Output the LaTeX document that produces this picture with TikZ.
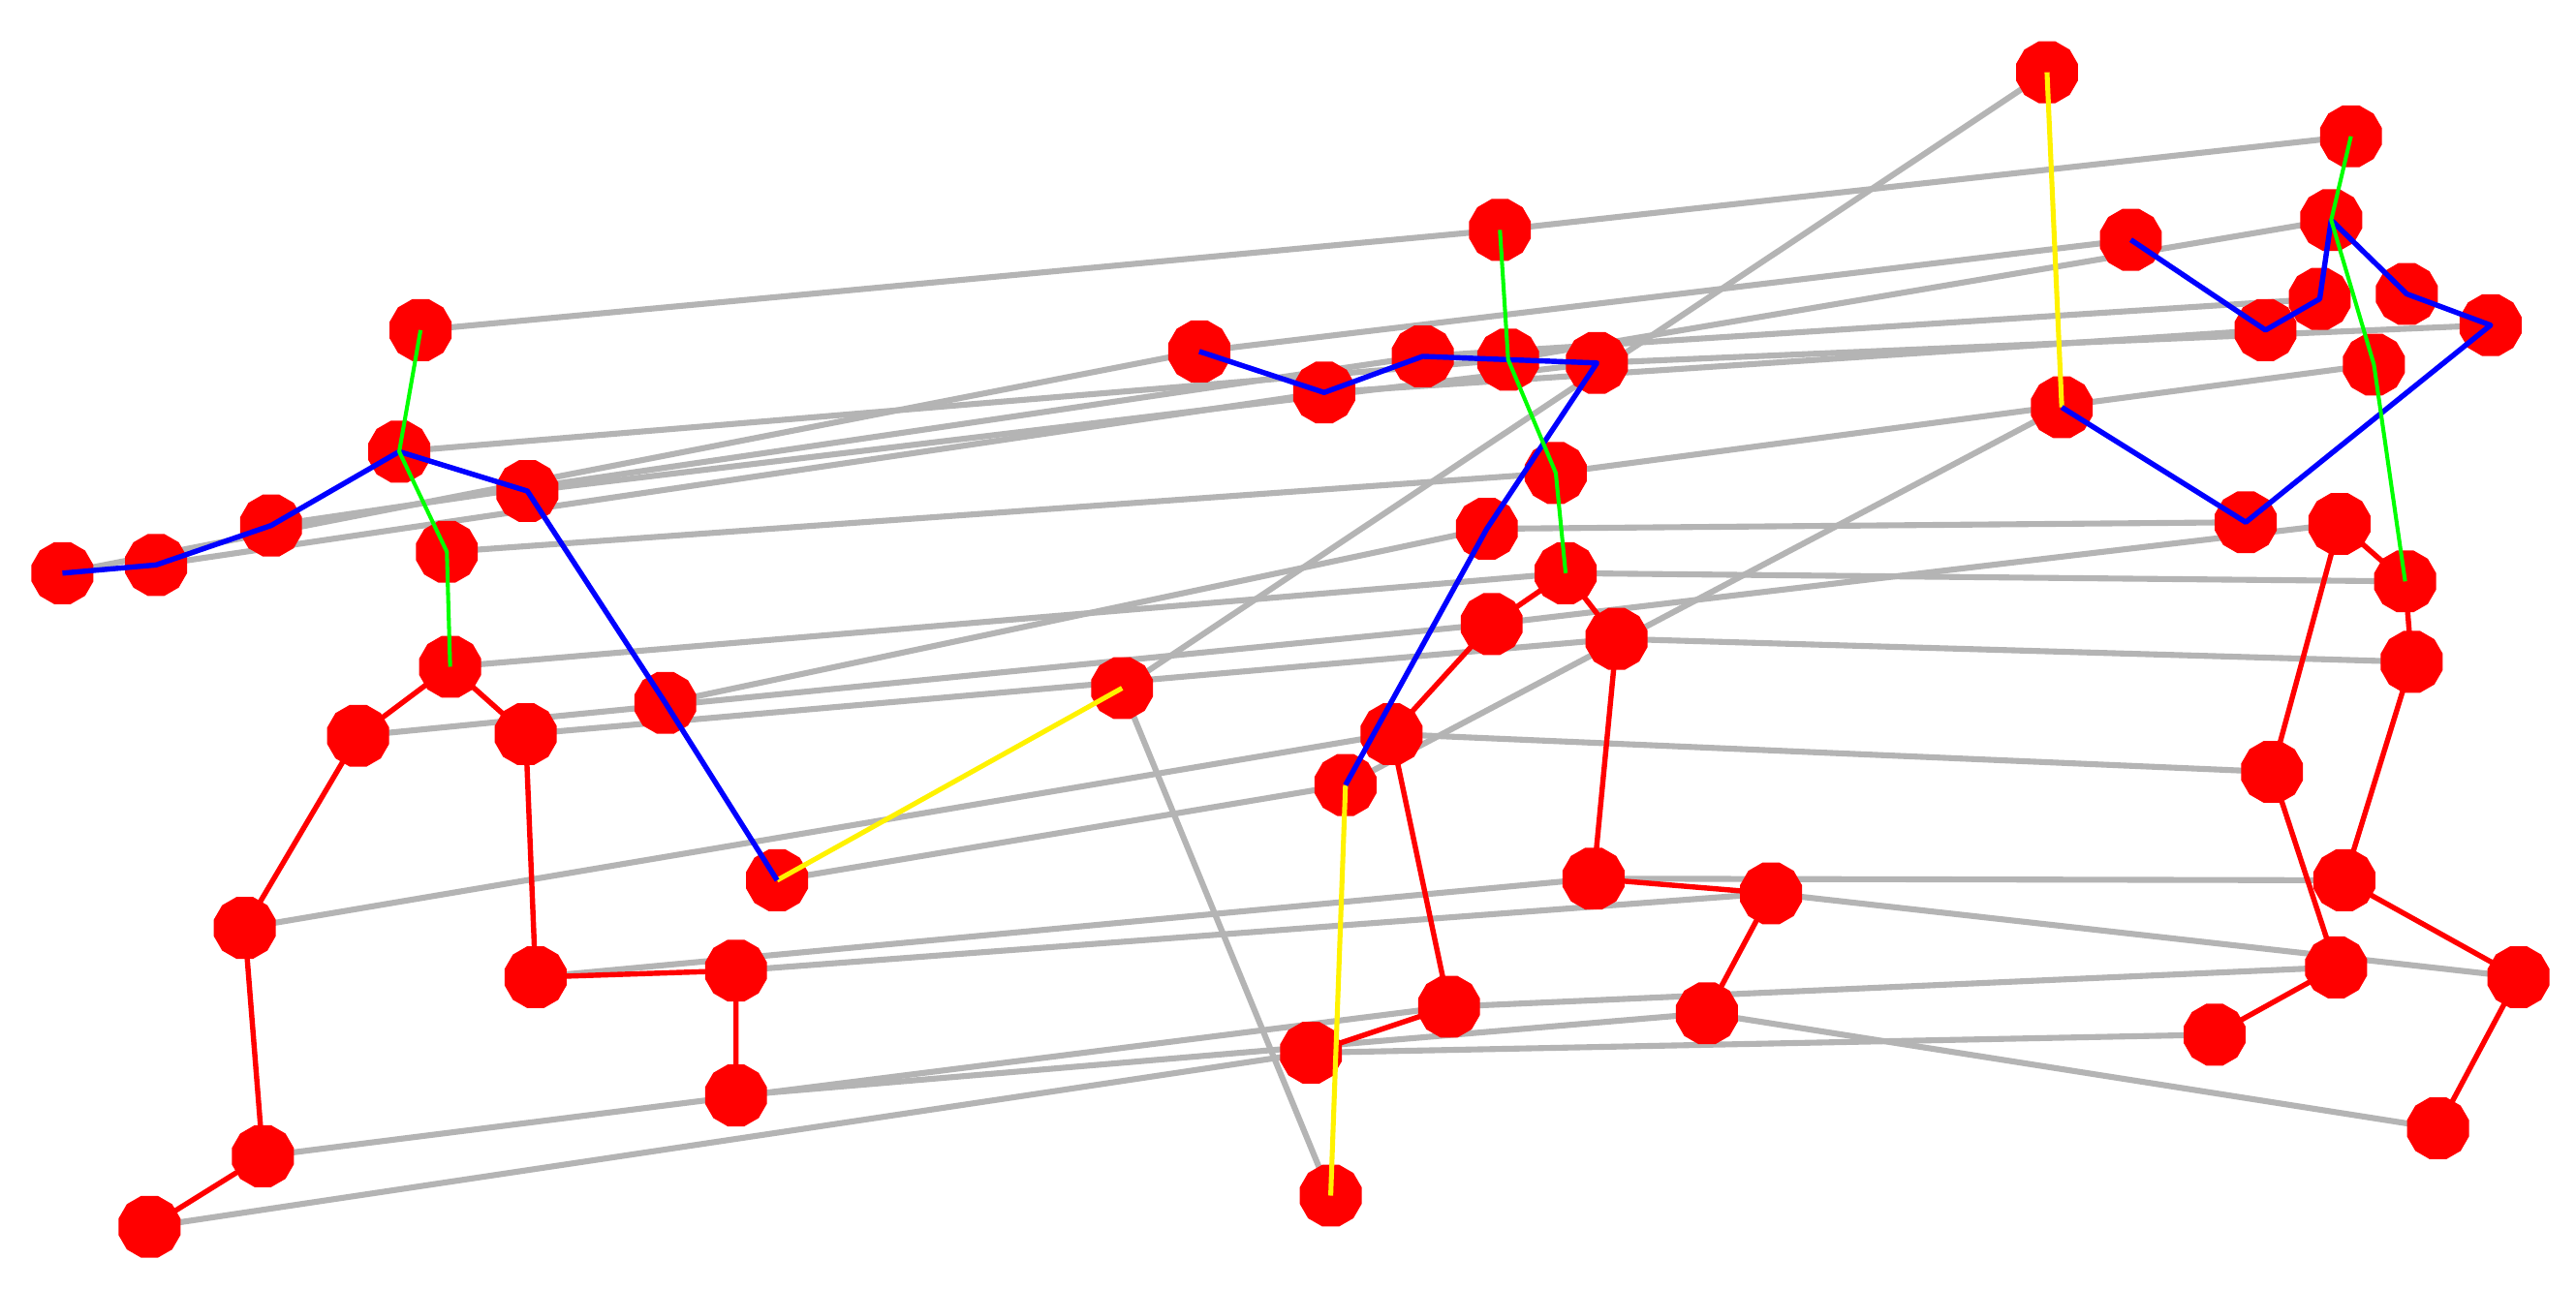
\documentclass[tikz,border=0pt]{standalone}
\usetikzlibrary{backgrounds,shapes.geometric}
\definecolor{gry}{RGB}{180,180,180}
\begin{document}
\begin{tikzpicture}[x=0.1mm,y=-0.1mm,
  dot/.style={regular polygon,regular polygon sides=12,fill=red,draw=none,inner sep=0pt,minimum size=3.9mm},
  gl/.style={draw=gry,line width=0.36mm},
  rl/.style={draw=red,line width=0.32mm,line join=round},
  bl/.style={draw=blue,line width=0.32mm,line join=round},
  gnl/.style={draw=green,line width=0.24mm,line join=round},
  yl/.style={draw=yellow,line width=0.3mm}]
\useasboundingbox (0,0) rectangle (1568,785);
% left figure
\foreach \n/\x/\y in {a1/256/201,a2/243/275,a3/165/320,a4/95/344,a5/38/349,a6/321/299,a7/272/336,a8/274/406,a9/218/448,a10/320/447,a11/149/565,a12/326/595,a13/448/591,a14/448/667,a15/160/704,a16/91/747,a17/405/428,a18/473/536,a19/683/419}
  \node[dot] (\n) at (\x,\y) {};
% middle figure
\foreach \n/\x/\y in {m1/913/140,m2/730/214,m3/806/239,m4/866/217,m5/918/219,m6/972/221,m7/947/288,m8/905/322,m9/953/349,m10/908/380,m11/984/389,m12/847/447,m13/819/478,m14/970/535,m15/1078/544,m16/882/613,m17/798/641,m18/1039/617,m19/810/728}
  \node[dot] (\n) at (\x,\y) {};
% right figure
\foreach \n/\x/\y in {r1/1246/44,r2/1431/83,r3/1419/134,r4/1297/146,r5/1379/201,r6/1412/182,r7/1465/179,r8/1516/198,r9/1445/222,r10/1255/248,r11/1367/318,r12/1424/319,r13/1464/354,r14/1468/403,r15/1383/470,r16/1427/536,r17/1422/589,r18/1533/595,r19/1348/630,r20/1484/687}
  \node[dot] (\n) at (\x,\y) {};
\begin{scope}[on background layer]
  \fill[white] (0,0) rectangle (1568,785);
  \foreach \p/\q in {a1/m1,a2/m5,a3/m4,a4/m3,a5/m2,a6/m6,a17/m8,a18/m13,a7/m7,a8/m9,a9/m10,a10/m11,a11/m12,a15/m16,a16/m17,a12/m14,a13/m15,a14/m18,a19/m19,
    m1/r2,m2/r4,m3/r5,m4/r6,m5/r3,m6/r8,m7/r9,m8/r11,m9/r13,m10/r12,m11/r14,m12/r15,m13/r10,m14/r16,m15/r18,m16/r17,m17/r19,m18/r20,a19/r1}
    \draw[gl] (\p.center) -- (\q.center);
\end{scope}
% red legs
\draw[rl] (a16.center) -- (a15.center) -- (a11.center) -- (a9.center) -- (a8.center) -- (a10.center) -- (a12.center) -- (a13.center) -- (a14.center);
\draw[rl] (m17.center) -- (m16.center) -- (m12.center) -- (m10.center) -- (m9.center) -- (m11.center) -- (m14.center) -- (m15.center) -- (m18.center);
\draw[rl] (r19.center) -- (r17.center) -- (r15.center) -- (r12.center) -- (r13.center) -- (r14.center) -- (r16.center) -- (r18.center) -- (r20.center);
% yellow
\draw[yl] (a18.center) -- (a19.center);
\draw[yl] (m13.center) -- (m19.center);
\draw[yl] (r10.center) -- (r1.center);
% blue arms
\draw[bl] (a5.center) -- (a4.center) -- (a3.center) -- (a2.center) -- (a6.center) -- (a17.center) -- (a18.center);
\draw[bl] (m2.center) -- (m3.center) -- (m4.center) -- (m5.center) -- (m6.center) -- (m8.center) -- (m13.center);
\draw[bl] (r4.center) -- (r5.center) -- (r6.center) -- (r3.center) -- (r7.center) -- (r8.center) -- (r11.center) -- (r10.center);
% green spine
\draw[gnl] (a1.center) -- (a2.center) -- (a7.center) -- (a8.center);
\draw[gnl] (m1.center) -- (m5.center) -- (m7.center) -- (m9.center);
\draw[gnl] (r2.center) -- (r3.center) -- (r9.center) -- (r13.center);
\end{tikzpicture}
\end{document}
